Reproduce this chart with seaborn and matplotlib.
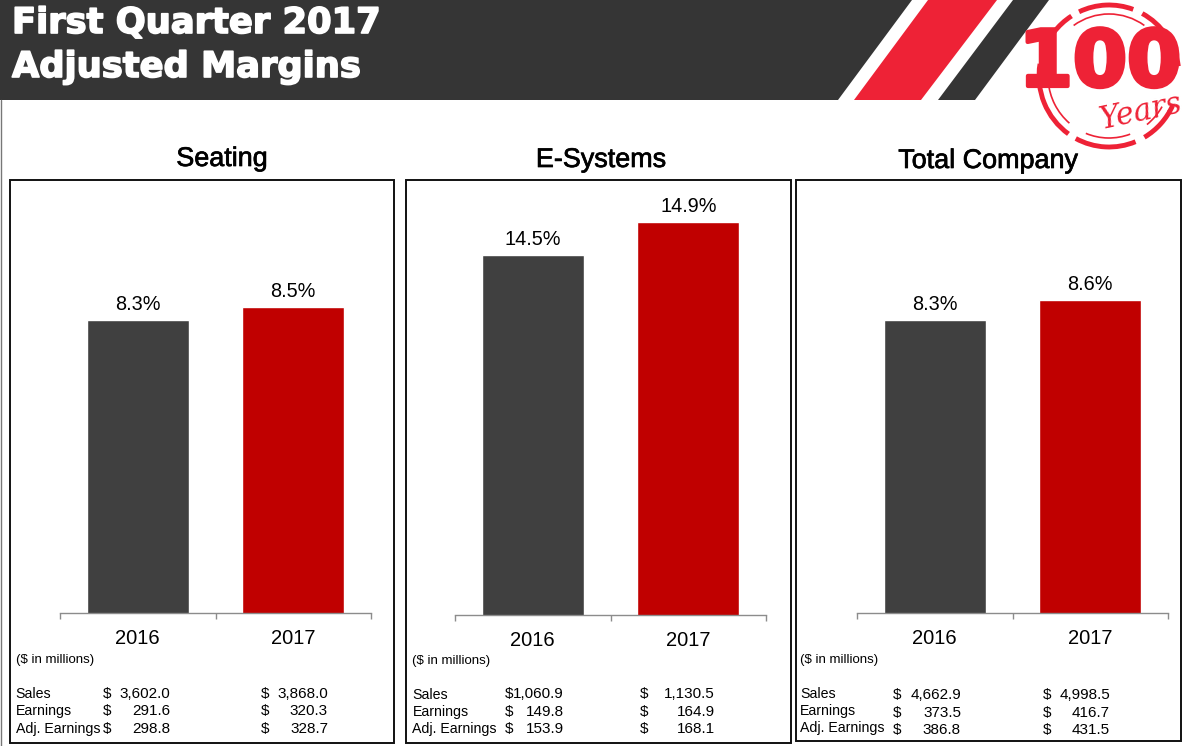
import matplotlib
matplotlib.use("Agg")
import matplotlib.pyplot as plt
import matplotlib.patheffects as pe
from matplotlib.patches import Polygon, Rectangle, Arc
import seaborn as sns

W, H = 1187, 746

years = ["2016", "2017"]
seating_margin = [8.3, 8.5]
esystems_margin = [14.5, 14.9]
total_margin = [8.3, 8.6]
row_names = ["Sales", "Earnings", "Adj. Earnings"]
seating_2016 = ["3,602.0", "291.6", "298.8"]
seating_2017 = ["3,868.0", "320.3", "328.7"]
esystems_2016 = ["1,060.9", "149.8", "153.9"]
esystems_2017 = ["1,130.5", "164.9", "168.1"]
total_2016 = ["4,662.9", "373.5", "386.8"]
total_2017 = ["4,998.5", "416.7", "431.5"]
bar_colors = ["#404040", "#C00000"]
DARK = "#353535"
RED = "#EE2236"

sns.set_theme(style="white")
plt.rcParams["font.family"] = ["Liberation Sans", "DejaVu Sans"]

fig = plt.figure(figsize=(W / 100, H / 100), dpi=100)
bg = fig.add_axes([0, 0, 1, 1], zorder=0)
bg.set_xlim(0, W)
bg.set_ylim(H, 0)
bg.axis("off")

# header band
bg.add_patch(Polygon([(0, 0), (912, 0), (838, 100), (0, 100)], color=DARK, lw=0))
bg.add_patch(Polygon([(928, 0), (997, 0), (921, 100), (854, 100)], color=RED, lw=0))
bg.add_patch(Polygon([(1013, 0), (1049, 0), (975, 100), (938, 100)], color=DARK, lw=0))
bg.plot([1, 1], [100, 746], color="#777777", lw=1)
for y, line in [(23, "First Quarter 2017"), (67, "Adjusted Margins")]:
    bg.text(12, y, line, color="white", fontsize=25.4, fontweight="bold", va="center",
            family="DejaVu Sans",
            path_effects=[pe.withStroke(linewidth=1.2, foreground="white")])

# 100 years stamp
for a, b in [(-62, -8), (25, 60), (68, 118), (125, 190), (198, 238), (245, 290)]:
    bg.add_patch(Arc((1109, 76), 140, 142, theta1=a, theta2=b, color=RED, lw=3.5))
for a, b in [(30, 52), (70, 112), (130, 175), (235, 305)]:
    bg.add_patch(Arc((1109, 76), 122, 124, theta1=a, theta2=b, color=RED, lw=1.2))
bg.text(1100, 64, "100", color=RED, fontsize=56, fontweight="bold",
        ha="center", va="center", family="DejaVu Sans",
        path_effects=[pe.withStroke(linewidth=3, foreground=RED)])
bg.text(1141, 112, "Years", color=RED, fontsize=22, fontstyle="italic", ha="center",
        va="center", rotation=12, family="DejaVu Serif")

panels = [
    {"title": "Seating", "tx": 222, "ty": 159, "box": (10, 180, 394, 743),
     "axis": (60, 371, 613), "margin": seating_margin, "low": 3.79, "scale": 65,
     "yr": 639, "note": (16, 660), "c1": seating_2016, "c2": seating_2017,
     "lx": 15.5, "d1": 103, "r1": 170, "d2": 261, "r2": 328,
     "ly": [694, 711, 729], "vy": [694, 711, 729]},
    {"title": "E-Systems", "tx": 601, "ty": 160, "box": (406, 180, 791, 743),
     "axis": (455, 766, 615), "margin": esystems_margin, "low": 10.136, "scale": 82.5,
     "yr": 641, "note": (412.5, 661), "c1": esystems_2016, "c2": esystems_2017,
     "lx": 412.5, "d1": 505, "r1": 564, "d2": 640, "r2": 715,
     "ly": [695, 712, 729], "vy": [694, 712, 729]},
    {"title": "Total Company", "tx": 988, "ty": 161, "box": (796, 180, 1181, 741),
     "axis": (857, 1168, 613), "margin": total_margin, "low": 3.90, "scale": 66.7,
     "yr": 639, "note": (800, 660), "c1": total_2016, "c2": total_2017,
     "lx": 800, "d1": 893, "r1": 961, "d2": 1043, "r2": 1110,
     "ly": [694, 711, 728], "vy": [695, 713, 730]},
]

for p in panels:
    x0, y0, x1, y1 = p["box"]
    bg.add_patch(Rectangle((x0, y0), x1 - x0, y1 - y0, fill=False, ec="#111111", lw=1.4))
    bg.text(p["tx"], p["ty"], p["title"], fontsize=19.4, ha="center", va="center", color="black",
            path_effects=[pe.withStroke(linewidth=0.5, foreground="black")])

    left, right, base = p["axis"]
    top = y0 + 2
    ax = fig.add_axes([left / W, 1 - base / H, (right - left) / W, (base - top) / H], zorder=1)
    ax.patch.set_alpha(0)
    sns.barplot(x=years, y=p["margin"], hue=years, palette=bar_colors, width=0.655,
                legend=False, saturation=1, ax=ax)
    ax.set_xlim(-0.5, 1.5)
    ax.set_ylim(p["low"], p["low"] + (base - top) / p["scale"])
    ax.set_yticks([])
    ax.set_xticks([])
    ax.set_xticks([-0.5, 0.5, 1.5], minor=True)
    ax.tick_params(axis="x", which="minor", bottom=True, length=4.5, width=1, color="#8C8C8C")
    sns.despine(ax=ax, left=True)
    ax.spines["bottom"].set_color("#8C8C8C")
    ax.spines["bottom"].set_linewidth(1)
    for cont, v in zip(ax.containers, p["margin"]):
        ax.bar_label(cont, labels=[f"{v:.1f}%"], fontsize=14.3, padding=4, color="black")

    for i, yr in enumerate(years):
        cx = left + (right - left) * (i * 0.5 + 0.25)
        bg.text(cx, p["yr"], yr, fontsize=14.5, ha="center", va="center", color="black")
    bg.text(p["note"][0], p["note"][1], "($ in millions)", fontsize=9.5, va="center", color="black")

    for j, name in enumerate(row_names):
        bg.text(p["lx"], p["ly"][j], name, fontsize=10.2, va="center", color="black")
        bg.text(p["d1"], p["vy"][j], "$", fontsize=11, va="center", color="black")
        bg.text(p["r1"], p["vy"][j], p["c1"][j], fontsize=11, va="center", ha="right", color="black")
        bg.text(p["d2"], p["vy"][j], "$", fontsize=11, va="center", color="black")
        bg.text(p["r2"], p["vy"][j], p["c2"][j], fontsize=11, va="center", ha="right", color="black")

fig.savefig("out.png", dpi=100)
